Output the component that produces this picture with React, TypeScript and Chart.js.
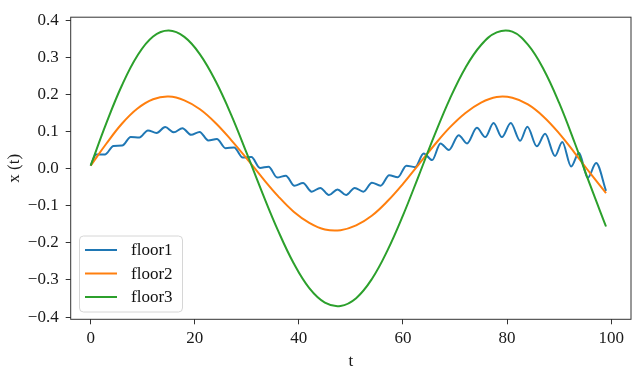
import { useEffect, useRef } from 'react';
import { Chart, registerables } from 'chart.js';

Chart.register(...registerables);

// ---- data ----
const xTicks = [0, 20, 40, 60, 80, 100];
const yTicks = [-0.4, -0.3, -0.2, -0.1, 0, 0.1, 0.2, 0.3, 0.4];

// sample times for the smooth curves
const tSmooth = [0, 3, 6, 9, 12, 15, 18, 21, 24, 27, 30, 33, 36, 39, 42, 45, 48, 51, 54, 57, 60, 63, 66, 69, 72, 75, 78, 81, 84, 87, 90, 93, 96, 99];

const floor2 = [0.008, 0.067, 0.121, 0.162, 0.187, 0.194, 0.184, 0.160, 0.123, 0.077, 0.027, -0.025, -0.074, -0.116, -0.146, -0.164, -0.166, -0.153, -0.127, -0.088, -0.041, 0.011, 0.063, 0.111, 0.150, 0.178, 0.193, 0.191, 0.173, 0.140, 0.095, 0.042, -0.013, -0.066];

const floor3 = [0.008, 0.122, 0.224, 0.305, 0.356, 0.372, 0.355, 0.308, 0.236, 0.145, 0.041, -0.066, -0.167, -0.255, -0.322, -0.361, -0.370, -0.349, -0.298, -0.221, -0.126, -0.020, 0.088, 0.188, 0.272, 0.333, 0.367, 0.369, 0.334, 0.268, 0.177, 0.069, -0.046, -0.156];

// floor1: times and values at its local peaks / troughs
const floor1T = [0, 1.08, 2.74, 4.39, 6.05, 7.70, 9.36, 11.01, 12.67, 14.32, 15.98, 17.63, 19.29, 20.94, 22.60, 24.25, 25.91, 27.56, 29.22, 30.87, 32.53, 34.18, 35.84, 37.49, 39.15, 40.80, 42.46, 44.11, 45.77, 47.42, 49.08, 50.73, 52.39, 54.04, 55.70, 57.35, 59.01, 60.66, 62.32, 63.97, 65.6, 67.2, 68.8, 70.7, 72.3, 74.2, 75.8, 77.4, 79.0, 80.7, 82.5, 83.9, 85.7, 87.3, 89.2, 90.6, 92.3, 93.8, 95.5, 97.1, 99.0];
const floor1V = [0.008, 0.038, 0.038, 0.061, 0.062, 0.085, 0.084, 0.103, 0.096, 0.112, 0.098, 0.109, 0.091, 0.099, 0.076, 0.080, 0.055, 0.057, 0.030, 0.031, 0.002, 0.005, -0.024, -0.019, -0.046, -0.039, -0.062, -0.052, -0.071, -0.056, -0.071, -0.052, -0.062, -0.038, -0.046, -0.018, -0.023, 0.008, 0.004, 0.041, 0.023, 0.068, 0.050, 0.090, 0.068, 0.110, 0.085, 0.123, 0.085, 0.123, 0.075, 0.113, 0.060, 0.094, 0.034, 0.072, 0.006, 0.043, -0.025, 0.015, -0.060];

const seriesNames = ['floor1', 'floor2', 'floor3'];
const seriesColors = ['#1f77b4', '#ff7f0e', '#2ca02c'];

const FONT = '"Liberation Serif", "Times New Roman", serif';

const framePlugin = {
  id: 'frame',
  afterDatasetsDraw(chart: any) {
    const { ctx, chartArea: a } = chart;
    ctx.save();
    ctx.strokeStyle = '#333';
    ctx.lineWidth = 1;
    ctx.strokeRect(a.left, a.top, a.right - a.left, a.bottom - a.top);
    ctx.restore();
  },
};

const legendPlugin = {
  id: 'mplLegend',
  afterDraw(chart: any) {
    const { ctx } = chart;
    const x = 79.5, y = 236, w = 103, h = 76, r = 4;
    ctx.save();
    ctx.beginPath();
    ctx.moveTo(x + r, y);
    ctx.arcTo(x + w, y, x + w, y + h, r);
    ctx.arcTo(x + w, y + h, x, y + h, r);
    ctx.arcTo(x, y + h, x, y, r);
    ctx.arcTo(x, y, x + w, y, r);
    ctx.closePath();
    ctx.fillStyle = 'rgba(255,255,255,0.8)';
    ctx.fill();
    ctx.strokeStyle = '#d6d6d6';
    ctx.lineWidth = 1;
    ctx.stroke();
    const rows = [250, 273.5, 297];
    ctx.font = `17px ${FONT}`;
    ctx.textBaseline = 'middle';
    ctx.textAlign = 'left';
    seriesNames.forEach((name, i) => {
      ctx.beginPath();
      ctx.strokeStyle = seriesColors[i];
      ctx.lineWidth = 2;
      ctx.moveTo(85, rows[i]);
      ctx.lineTo(117, rows[i]);
      ctx.stroke();
      ctx.fillStyle = '#111';
      ctx.fillText(name, 131, rows[i] + 1);
    });
    ctx.restore();
  },
};

export default function App() {
  const ref = useRef<HTMLCanvasElement>(null);

  useEffect(() => {
    const toXY = (xs: number[], ys: number[]) => xs.map((t, i) => ({ x: t, y: ys[i] }));
    const chart = new Chart(ref.current as HTMLCanvasElement, {
      type: 'line',
      data: {
        datasets: [
          {
            label: seriesNames[0],
            data: toXY(floor1T, floor1V),
            borderColor: seriesColors[0],
            borderWidth: 2,
            pointRadius: 0,
            cubicInterpolationMode: 'monotone',
            fill: false,
            order: 3,
          },
          {
            label: seriesNames[1],
            data: toXY(tSmooth, floor2),
            borderColor: seriesColors[1],
            borderWidth: 2,
            pointRadius: 0,
            tension: 0.4,
            fill: false,
            order: 2,
          },
          {
            label: seriesNames[2],
            data: toXY(tSmooth, floor3),
            borderColor: seriesColors[2],
            borderWidth: 2,
            pointRadius: 0,
            tension: 0.4,
            fill: false,
            order: 1,
          },
        ],
      },
      options: {
        animation: false,
        responsive: false,
        maintainAspectRatio: false,
        layout: { padding: { left: 0, right: 6, top: 11, bottom: 0 } },
        plugins: { legend: { display: false }, tooltip: { enabled: false }, title: { display: false } },
        scales: {
          x: {
            type: 'linear',
            min: -3.83,
            max: 103.8,
            afterBuildTicks: (s: any) => {
              s.ticks = xTicks.map((v) => ({ value: v }));
            },
            afterFit: (s: any) => {
              s.height = 53.7;
            },
            grid: { display: true, drawOnChartArea: false, drawTicks: true, tickLength: 5, color: '#333', lineWidth: 1 },
            border: { display: false },
            ticks: {
              font: { family: FONT, size: 17 },
              color: '#1a1a1a',
              padding: 4,
              maxRotation: 0,
              autoSkip: false,
              callback: (v: any) => String(v),
            },
            title: {
              display: true,
              text: 't',
              font: { family: FONT, size: 17 },
              color: '#1a1a1a',
              padding: { top: 0, bottom: 1 },
            },
          },
          y: {
            type: 'linear',
            min: -0.406,
            max: 0.408,
            afterBuildTicks: (s: any) => {
              s.ticks = yTicks.map((v) => ({ value: v }));
            },
            afterFit: (s: any) => {
              s.width = 70.7;
            },
            grid: { display: true, drawOnChartArea: false, drawTicks: true, tickLength: 5, color: '#333', lineWidth: 1 },
            border: { display: false },
            ticks: {
              font: { family: FONT, size: 17 },
              color: '#1a1a1a',
              padding: 7,
              autoSkip: false,
              callback: (v: any) => {
                const n = Number(v);
                const s = Math.abs(n).toFixed(1);
                return n < -1e-9 ? '\u2212' + s : s;
              },
            },
            title: {
              display: true,
              text: 'x (t)',
              font: { family: FONT, size: 17 },
              color: '#1a1a1a',
              padding: { top: 4, bottom: 0 },
            },
          },
        },
      },
      plugins: [framePlugin, legendPlugin],
    } as any);
    return () => chart.destroy();
  }, []);

  return (
    <div style={{ position: 'fixed', left: 0, top: 0, width: 637, height: 373, background: '#fff' }}>
      <canvas ref={ref} width={637} height={373} style={{ display: 'block' }} />
    </div>
  );
}
